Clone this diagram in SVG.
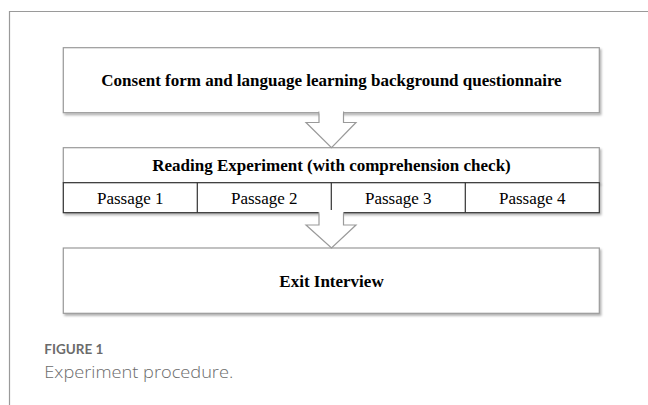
<svg xmlns="http://www.w3.org/2000/svg" width="648" height="405" viewBox="0 0 648 405">
<style>
.box{fill:#fff;stroke:#9a9a9a;stroke-width:1.2}
.cell{fill:#fff;stroke:#333;stroke-width:1.2}
.arrow{fill:#fff;stroke:#9a9a9a;stroke-width:1.2;stroke-linejoin:miter}
.bt{font-family:"Liberation Serif","Times New Roman",serif;font-weight:bold;font-size:17px;fill:#000;text-anchor:middle}
.rt{font-family:"Liberation Serif","Times New Roman",serif;font-size:17px;fill:#000;text-anchor:middle}
.fig{font-family:Lato,"Open Sans",sans-serif;font-weight:bold;font-size:13.5px;fill:#6b6b6b}
.cap{font-family:"Open Sans",Lato,sans-serif;font-weight:300;font-size:16px;fill:#6b6b6b}
</style>
<defs>
<filter id="sh" x="-5%" y="-10%" width="110%" height="130%">
<feDropShadow dx="1.5" dy="2" stdDeviation="1.2" flood-color="#000" flood-opacity="0.3"/>
</filter>
</defs>
<rect width="648" height="405" fill="#fff"/>
<path d="M9.5 405 V11.5 H648" fill="none" stroke="#9a9a9a" stroke-width="1.2"/>
<g id="node-consent">
<rect class="box" x="63.3" y="47.7" width="536" height="65" filter="url(#sh)"/>
<text class="bt" x="331.5" y="86">Consent form and language learning background questionnaire</text>
</g>
<g id="node-reading">
<rect class="box" x="63.3" y="147.7" width="536" height="35" filter="url(#sh)"/>
<text class="bt" x="331.5" y="170.7">Reading Experiment (with comprehension check)</text>
<g id="passages" filter="url(#sh)">
<rect class="cell" x="63.3" y="182.7" width="536" height="30"/>
<line x1="197.3" y1="182.7" x2="197.3" y2="212.7" stroke="#333" stroke-width="1.2"/>
<line x1="331.3" y1="182.7" x2="331.3" y2="212.7" stroke="#333" stroke-width="1.2"/>
<line x1="465.3" y1="182.7" x2="465.3" y2="212.7" stroke="#333" stroke-width="1.2"/>
</g>
<text class="rt" x="130.3" y="204">Passage 1</text>
<text class="rt" x="264.3" y="204">Passage 2</text>
<text class="rt" x="398.3" y="204">Passage 3</text>
<text class="rt" x="532.3" y="204">Passage 4</text>
</g>
<g id="node-exit">
<rect class="box" x="63.3" y="248" width="536" height="65.3" filter="url(#sh)"/>
<text class="bt" x="331.5" y="286.7">Exit Interview</text>
</g>
<g id="connectors">
<path d="M319 111.5 V122.5 H306 L331.5 147.7 L356 122.5 H343.5 V111.5" class="arrow"/>
<rect x="319.6" y="110" width="23.3" height="3.5" fill="#fff"/>
<path d="M319 212 V225 H306 L331.5 248 L356 225 H343.5 V212" class="arrow"/>
<rect x="319.6" y="210" width="23.3" height="3.5" fill="#fff"/>
</g>
<text class="fig" x="44.3" y="354">FIGURE 1</text>
<text class="cap" x="44.3" y="377.7" textLength="189" lengthAdjust="spacingAndGlyphs">Experiment procedure.</text>
</svg>
